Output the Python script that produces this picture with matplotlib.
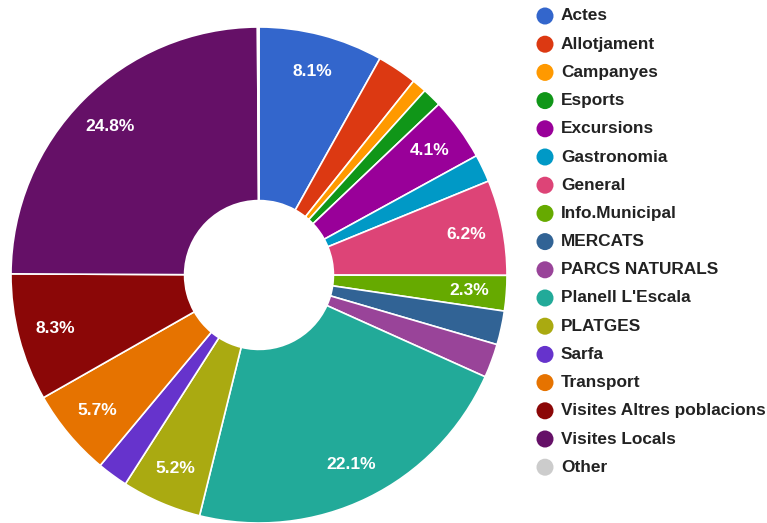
import matplotlib

matplotlib.use("Agg")
import matplotlib.pyplot as plt  # noqa: E402

categories = ["Actes", "Allotjament", "Campanyes", "Esports", "Excursions", "Gastronomia",
              "General", "Info.Municipal", "MERCATS", "PARCS NATURALS", "Planell L'Escala",
              "PLATGES", "Sarfa", "Transport", "Visites Altres poblacions", "Visites Locals",
              "Other"]
shares = [8.1, 2.6, 0.95, 1.25, 4.1, 1.8, 6.2, 2.3, 2.2, 2.2, 22.1, 5.2, 2.0, 5.7, 8.3, 24.8, 0.1]
colors = ["#3366cc", "#dc3912", "#ff9900", "#109618", "#990099", "#0099c6", "#dd4477",
          "#66aa00", "#316395", "#994499", "#22aa99", "#aaaa11", "#6633cc", "#e67300",
          "#8b0707", "#651067", "#cccccc"]
# slices whose percentage fits inside the wedge
labelled = ["Actes", "Excursions", "General", "Info.Municipal", "Planell L'Escala",
            "PLATGES", "Transport", "Visites Altres poblacions", "Visites Locals"]

plt.rcParams["font.family"] = ["Liberation Sans", "DejaVu Sans"]

W, H = 767, 523
fig = plt.figure(figsize=(W / 100, H / 100), dpi=100)

# pie: centre (259, 275) px, radius 248 px
cx, cy, r = 259, 275, 248
ax = fig.add_axes([(cx - r) / W, (H - cy - r) / H, 2 * r / W, 2 * r / H])
wedges, texts, autotexts = ax.pie(
    shares, colors=colors, startangle=90, counterclock=False,
    wedgeprops=dict(width=0.7, edgecolor="white", linewidth=1.2),
    autopct="%1.1f%%", pctdistance=0.85,
    textprops=dict(color="white", fontsize=12.5, fontweight="bold"))
for name, t in zip(categories, autotexts):
    if name not in labelled:
        t.set_text("")
ax.set_xlim(-1, 1)
ax.set_ylim(-1, 1)
ax.set_aspect("equal")
ax.axis("off")

# legend, drawn in pixel coords
lg = fig.add_axes([0, 0, 1, 1], zorder=-1)
lg.set_xlim(0, W)
lg.set_ylim(H, 0)
lg.axis("off")
y0, dy = 16, 28.2
for i, (name, c) in enumerate(zip(categories, colors)):
    y = y0 + i * dy
    lg.scatter([545], [y], s=150, color=c, edgecolors="none")
    lg.text(561, y, name, va="center", ha="left", fontsize=12.4, fontweight="bold", color="#222222")

fig.savefig("out.png", dpi=100, facecolor="white")
